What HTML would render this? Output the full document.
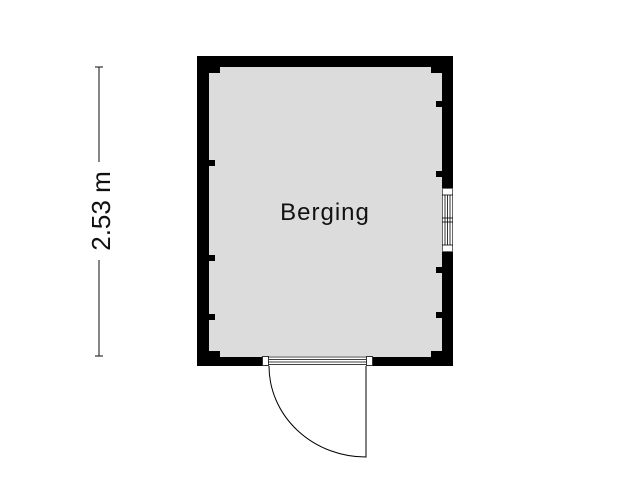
<!DOCTYPE html>
<html><head><style>body{margin:0;background:#fff}svg{display:block}</style></head>
<body>
<svg width="640" height="480" viewBox="0 0 640 480" xmlns="http://www.w3.org/2000/svg">
<rect x="197" y="56" width="256" height="310" fill="#000"/>
<rect x="209" y="67" width="233" height="290" fill="#dcdcdc"/>
<rect x="262" y="356" width="111" height="11" fill="#fff"/>
<rect x="262.5" y="356.5" width="6" height="9" fill="#fff" stroke="#000" stroke-width="0.8"/>
<rect x="366.5" y="356.5" width="6" height="9" fill="#fff" stroke="#000" stroke-width="0.8"/>
<g stroke="#000" stroke-width="0.8">
<line x1="268" y1="357" x2="366" y2="357"/>
<line x1="269" y1="359.5" x2="366" y2="359.5"/>
<line x1="269" y1="362" x2="366" y2="362"/>
<line x1="269" y1="364.5" x2="366" y2="364.5"/>
</g>
<path d="M269 366 A97 91 0 0 0 366 457 L366 366" fill="none" stroke="#000" stroke-width="1"/>
<rect x="442" y="188" width="11" height="64" fill="#fff"/>
<rect x="442.5" y="188.5" width="10" height="63" fill="#fff" stroke="#000" stroke-width="0.6"/>
<g stroke="#000" stroke-width="0.8">
<line x1="442" y1="195" x2="453" y2="195"/>
<line x1="442" y1="245" x2="453" y2="245"/>
<line x1="442" y1="218" x2="453" y2="218"/>
<line x1="442" y1="222" x2="453" y2="222"/>
<line x1="445" y1="195" x2="445" y2="245"/>
<line x1="447.5" y1="195" x2="447.5" y2="245"/>
<line x1="450" y1="195" x2="450" y2="245"/>
</g>
<g fill="#000">
<rect x="209" y="67" width="11" height="6"/>
<rect x="431" y="67" width="11" height="6"/>
<rect x="209" y="351" width="11" height="6"/>
<rect x="431" y="351" width="11" height="6"/>
<rect x="209" y="160" width="6" height="6"/>
<rect x="209" y="255" width="6" height="6"/>
<rect x="209" y="314" width="6" height="6"/>
<rect x="436" y="101" width="6" height="6"/>
<rect x="436" y="171" width="6" height="6"/>
<rect x="436" y="267" width="6" height="6"/>
<rect x="436" y="312" width="6" height="6"/>
</g>
<text x="325" y="220" font-family="Liberation Sans, sans-serif" font-size="24" letter-spacing="1" text-anchor="middle" fill="#111">Berging</text>
<g stroke="#333" stroke-width="1.2">
<line x1="99" y1="67" x2="99" y2="162"/>
<line x1="99" y1="260" x2="99" y2="356"/>
<line x1="95" y1="67" x2="103" y2="67"/>
<line x1="95" y1="356" x2="103" y2="356"/>
</g>
<text transform="translate(110,211) rotate(-90)" font-family="Liberation Sans, sans-serif" font-size="26" text-anchor="middle" fill="#111">2.53 m</text>
</svg>
</body></html>
